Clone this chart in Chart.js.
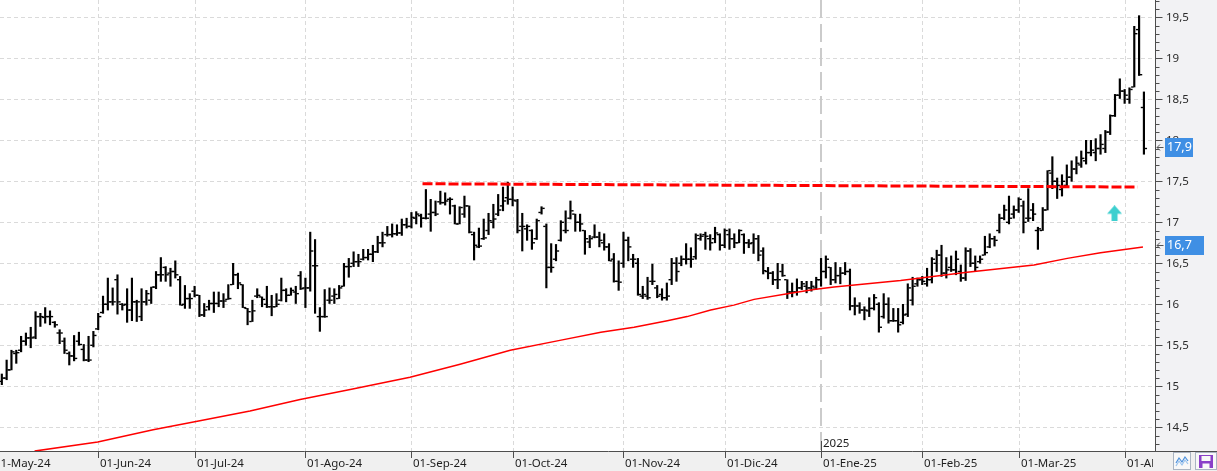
<!DOCTYPE html>
<html><head><meta charset="utf-8">
<script src="https://cdn.jsdelivr.net/npm/chart.js@4.4.1/dist/chart.umd.min.js"></script>
<style>html,body{margin:0;padding:0;background:#fff;overflow:hidden}canvas{display:block}</style>
</head><body>
<canvas id="c" width="1217" height="471"></canvas>
<script>
// ---- data ----
const opens = [
15.02,15.06,15.10,15.20,15.40,15.44,15.55,15.59,15.60,15.85,
15.84,15.85,15.78,15.65,15.55,15.40,15.37,15.55,15.45,15.32,
15.50,15.70,15.90,16.00,16.03,16.30,16.00,16.00,15.93,16.03,
15.85,16.03,16.05,16.21,16.36,16.45,16.38,16.40,16.30,16.00,
16.07,16.16,16.11,15.87,15.97,16.01,16.01,16.04,16.06,16.24,
16.36,16.24,15.95,15.79,16.10,16.09,16.00,15.97,15.97,16.05,
16.17,16.11,16.15,16.35,16.20,16.20,16.47,15.85,15.85,16.05,
16.10,16.07,16.22,16.46,16.50,16.52,16.55,16.57,16.61,16.64,
16.75,16.85,16.85,16.86,16.87,16.97,16.95,17.05,17.08,17.05,
17.10,17.12,17.25,17.24,17.28,17.20,16.98,17.10,17.20,16.85,
16.70,16.80,16.90,17.00,17.10,17.20,17.30,17.28,17.26,16.95,
16.92,16.90,16.80,17.12,16.95,16.45,16.55,16.78,16.90,17.05,
17.10,17.00,16.90,16.76,16.82,16.82,16.75,16.70,16.55,16.28,
16.50,16.78,16.55,16.50,16.10,16.10,16.28,16.20,16.12,16.08,
16.30,16.50,16.50,16.55,16.55,16.58,16.80,16.85,16.80,16.80,
16.85,16.72,16.85,16.80,16.75,16.85,16.75,16.75,16.80,16.65,
16.40,16.38,16.30,16.40,16.30,16.15,16.15,16.20,16.22,16.20,
16.20,16.30,16.40,16.45,16.30,16.35,16.38,16.40,15.98,15.98,
15.93,15.92,15.95,16.00,15.85,16.00,15.80,15.80,15.78,15.88,
16.05,16.25,16.30,16.25,16.30,16.50,16.60,16.38,16.45,16.42,
16.40,16.32,16.65,16.50,16.52,16.60,16.70,16.80,16.90,17.05,
17.00,17.10,17.15,17.20,17.05,17.15,16.90,16.90,17.15,17.60,
17.50,17.40,17.45,17.55,17.65,17.70,17.75,17.85,17.85,17.90,
17.90,18.10,18.30,18.55,18.60,18.50,18.65,19.35,18.40];
const highs = [
15.12,15.15,15.32,15.44,15.44,15.61,15.65,15.72,15.91,15.89,
15.96,15.92,15.79,15.69,15.59,15.42,15.62,15.66,15.51,15.61,
15.67,15.89,16.10,16.32,16.20,16.36,16.01,16.19,16.32,16.05,
16.19,16.17,16.21,16.40,16.57,16.46,16.44,16.53,16.34,16.23,
16.13,16.22,16.11,16.01,16.05,16.15,16.15,16.13,16.24,16.50,
16.38,16.24,15.95,16.05,16.19,16.09,16.22,16.11,16.13,16.32,
16.19,16.20,16.22,16.40,16.32,16.88,16.79,15.96,16.18,16.20,
16.19,16.23,16.50,16.56,16.64,16.61,16.67,16.67,16.72,16.83,
16.88,16.95,16.98,16.97,17.04,17.05,17.12,17.13,17.10,17.40,
17.28,17.26,17.38,17.36,17.30,17.21,17.19,17.32,17.20,16.88,
16.93,17.04,17.11,17.22,17.34,17.43,17.49,17.43,17.28,17.11,
16.97,16.91,17.04,17.19,16.98,16.74,16.73,17.02,17.14,17.26,
17.10,17.10,16.90,16.84,16.97,16.88,16.86,16.74,16.62,16.53,
16.88,16.82,16.61,16.56,16.22,16.33,16.49,16.23,16.19,16.26,
16.56,16.57,16.59,16.74,16.69,16.86,16.86,16.88,16.85,16.94,
16.86,16.92,16.92,16.86,16.91,16.86,16.79,16.86,16.84,16.69,
16.45,16.40,16.50,16.49,16.30,16.26,16.31,16.28,16.28,16.28,
16.33,16.56,16.59,16.45,16.51,16.45,16.51,16.43,16.08,16.02,
15.97,16.08,16.12,16.02,16.13,16.08,15.95,15.95,16.00,16.25,
16.33,16.32,16.34,16.44,16.57,16.66,16.72,16.57,16.59,16.65,
16.48,16.69,16.68,16.59,16.59,16.83,16.86,16.83,17.10,17.21,
17.32,17.20,17.30,17.26,17.41,17.23,16.94,17.18,17.63,17.80,
17.54,17.58,17.70,17.75,17.80,17.87,18.00,18.00,18.02,18.07,
18.12,18.31,18.56,18.75,18.62,18.64,19.39,19.52,18.59];
const lows = [
15.00,15.02,15.08,15.20,15.28,15.42,15.50,15.47,15.58,15.73,
15.77,15.75,15.72,15.52,15.40,15.26,15.31,15.50,15.31,15.30,
15.48,15.69,15.89,15.93,15.99,15.88,15.93,15.78,15.80,15.79,
15.80,15.99,16.01,16.19,16.28,16.28,16.22,16.32,15.99,15.95,
15.95,16.09,15.85,15.85,15.93,15.90,15.97,15.96,16.06,16.24,
16.19,15.96,15.75,15.79,16.08,15.97,15.96,15.86,15.97,16.04,
16.03,16.11,16.01,16.18,15.96,16.16,15.89,15.67,15.84,16.01,
16.01,16.07,16.22,16.33,16.46,16.46,16.54,16.54,16.52,16.63,
16.70,16.83,16.82,16.84,16.84,16.93,16.93,16.98,16.94,17.04,
16.89,17.08,17.22,17.21,17.10,16.98,16.98,17.06,16.87,16.54,
16.69,16.79,16.85,16.93,17.08,17.14,17.22,17.20,16.87,16.65,
16.78,16.67,16.79,17.10,16.20,16.39,16.53,16.77,16.87,17.04,
16.89,16.89,16.61,16.69,16.81,16.70,16.66,16.53,16.27,16.17,
16.45,16.53,16.45,16.11,16.07,16.06,16.24,16.08,16.05,16.05,
16.24,16.28,16.47,16.49,16.45,16.55,16.78,16.67,16.66,16.75,
16.66,16.69,16.67,16.69,16.75,16.62,16.69,16.62,16.53,16.37,
16.31,16.24,16.19,16.34,16.07,16.09,16.11,16.18,16.14,16.16,
16.18,16.22,16.32,16.24,16.26,16.25,16.36,15.93,15.87,15.89,
15.81,15.85,15.93,15.66,15.83,15.77,15.79,15.66,15.76,15.85,
15.99,16.22,16.24,16.22,16.26,16.40,16.34,16.32,16.40,16.36,
16.28,16.29,16.46,16.40,16.50,16.60,16.69,16.71,16.87,17.03,
16.98,17.05,17.12,16.87,17.01,17.02,16.67,16.90,17.15,17.41,
17.29,17.32,17.43,17.50,17.59,17.67,17.71,17.81,17.75,17.83,
17.85,18.07,18.29,18.51,18.45,18.45,18.65,18.79,17.83];
const closes = [
15.06,15.10,15.20,15.42,15.41,15.55,15.59,15.59,15.85,15.85,
15.85,15.85,15.75,15.65,15.44,15.37,15.34,15.51,15.32,15.32,
15.62,15.85,16.00,16.03,16.03,16.03,15.99,15.93,16.03,16.03,
16.03,16.13,16.21,16.36,16.36,16.36,16.40,16.36,15.99,16.07,
16.07,16.11,15.87,15.93,16.01,16.01,16.04,16.04,16.07,16.36,
16.26,15.96,15.91,15.92,16.11,16.06,15.97,15.97,16.00,16.17,
16.11,16.17,16.13,16.19,16.20,16.65,16.47,15.85,15.85,16.05,
16.12,16.20,16.46,16.46,16.52,16.52,16.57,16.61,16.64,16.75,
16.75,16.85,16.86,16.87,16.97,16.95,17.06,17.10,17.05,17.05,
17.12,17.10,17.24,17.26,17.28,16.98,17.18,17.20,16.88,16.72,
16.71,16.81,17.02,17.04,17.15,17.26,17.28,17.27,16.90,16.95,
16.95,16.75,17.02,17.17,16.45,16.45,16.65,17.00,16.90,17.14,
17.00,16.98,16.80,16.80,16.82,16.78,16.70,16.53,16.28,16.27,
16.78,16.70,16.55,16.12,16.12,16.08,16.28,16.10,16.08,16.10,
16.50,16.40,16.55,16.55,16.55,16.84,16.83,16.83,16.75,16.87,
16.72,16.90,16.80,16.75,16.90,16.75,16.74,16.80,16.60,16.41,
16.38,16.30,16.30,16.35,16.15,16.15,16.20,16.25,16.20,16.22,
16.30,16.40,16.55,16.30,16.35,16.38,16.40,15.98,15.98,15.93,
15.93,15.95,16.08,15.72,16.00,15.80,15.80,15.75,15.87,16.20,
16.22,16.30,16.28,16.30,16.55,16.60,16.38,16.42,16.42,16.55,
16.32,16.65,16.50,16.45,16.55,16.63,16.80,16.78,17.05,17.15,
17.05,17.15,17.28,17.00,17.05,17.10,16.92,17.15,17.63,17.50,
17.45,17.50,17.55,17.65,17.72,17.78,17.85,17.88,17.90,17.95,
18.10,18.30,18.55,18.60,18.55,18.62,19.30,18.80,17.90];

// moving average, read at sample positions (bar index, value)
const maIdx = [7.8,20.9,32.4,42.1,52.5,62.9,73.3,85.7,96.1,106.5,116.8,125.3,132.2,139.1,143.2,148.1,152.9,157.1,164.0,169.5,173.7,180.6,187.5,201.3,215.2,222.1,229.0,237.8];
const maVal = [14.21,14.32,14.47,14.58,14.70,14.84,14.96,15.11,15.27,15.44,15.56,15.66,15.72,15.80,15.85,15.93,15.99,16.06,16.13,16.18,16.21,16.25,16.29,16.39,16.48,16.56,16.63,16.70];

// resistance line (dashed red)
const trendIdx = [88.3, 236.7];
const trendVal = [17.47, 17.43];

// signal arrow
const arrowIdx = [231.9];
const arrowVal = [17.11];

// axis ticks
const monthTickIdx = [-1,21,41,64,86,107,130,151,171,192,212,234];
const monthTickLabels = ["01-May-24","01-Jun-24","01-Jul-24","01-Ago-24","01-Sep-24","01-Oct-24","01-Nov-24","01-Dic-24","01-Ene-25","01-Feb-25","01-Mar-25","01-Abr-25"];
const yearTickIdx = 171;
const yearLabel = "2025";
const yTickValues = [14.5,15,15.5,16,16.5,17,17.5,18,18.5,19,19.5];
const lastPrice = 17.9;
const lastMA = 16.7;

const fmt = v => String(Math.round(v*10)/10).replace('.', ',');

// arrow image
const arrowImg = document.createElement('canvas');
arrowImg.width = 15; arrowImg.height = 16;
(function(){
  const g = arrowImg.getContext('2d');
  g.fillStyle = '#3ccfcf';
  g.beginPath();
  g.moveTo(7.5,0); g.lineTo(15,8.5); g.lineTo(10.5,8.5); g.lineTo(10.5,16);
  g.lineTo(4.5,16); g.lineTo(4.5,8.5); g.lineTo(0,8.5); g.closePath(); g.fill();
})();

const idx = opens.map((_, i) => i);

const chrome = {
  id: 'chrome',
  beforeDraw(chart) {
    const {ctx, chartArea: a, width, height} = chart;
    ctx.save();
    ctx.fillStyle = '#ffffff'; ctx.fillRect(0, 0, width, height);
    ctx.fillStyle = '#f2f2f4'; ctx.fillRect(a.right, 0, width - a.right, a.bottom);
    ctx.fillStyle = '#f0f0f0'; ctx.fillRect(0, a.bottom, width, height - a.bottom);
    ctx.restore();
  },
  beforeDatasetsDraw(chart) {
    const {ctx, chartArea: a, scales: {x, y}} = chart;
    ctx.save();
    ctx.beginPath(); ctx.rect(a.left, a.top, a.right - a.left, a.bottom - a.top); ctx.clip();
    ctx.lineWidth = 1; ctx.strokeStyle = '#dadada'; ctx.setLineDash([4, 3]);
    yTickValues.forEach(v => {
      const py = Math.round(y.getPixelForValue(v)) + 0.5;
      ctx.beginPath(); ctx.moveTo(a.left, py); ctx.lineTo(a.right, py); ctx.stroke();
    });
    monthTickIdx.forEach(t => {
      if (t === yearTickIdx) return;
      const px = Math.round(x.getPixelForValue(t)) + 0.5;
      ctx.beginPath(); ctx.moveTo(px, a.top); ctx.lineTo(px, a.bottom); ctx.stroke();
    });
    ctx.setLineDash([18, 6]); ctx.strokeStyle = '#cbcbcb'; ctx.lineWidth = 2;
    const yx = Math.round(x.getPixelForValue(yearTickIdx));
    ctx.beginPath(); ctx.moveTo(yx, a.top); ctx.lineTo(yx, a.bottom); ctx.stroke();
    ctx.restore();
  },
  afterDraw(chart) {
    const {ctx, chartArea: a, scales: {x, y}, width, height} = chart;
    ctx.save();
    ctx.setLineDash([]);
    ctx.strokeStyle = '#4e4e4e'; ctx.lineWidth = 1;
    const ax = Math.round(a.right) + 0.5;
    const ay = Math.round(a.bottom) + 0.5;
    ctx.beginPath(); ctx.moveTo(ax, 0); ctx.lineTo(ax, a.bottom); ctx.stroke();
    ctx.beginPath(); ctx.moveTo(0, ay); ctx.lineTo(width, ay); ctx.stroke();
    // right axis ticks (major every 0.5, minor every 0.1)
    for (let k = Math.ceil(y.min * 10); k <= Math.floor(y.max * 10); k++) {
      const py = Math.round(y.getPixelForValue(k / 10)) + 0.5;
      const len = (k % 5 === 0) ? 7 : 4;
      ctx.beginPath(); ctx.moveTo(ax, py); ctx.lineTo(ax + len, py); ctx.stroke();
    }
    // month ticks and labels
    ctx.save();
    ctx.beginPath(); ctx.rect(0, a.bottom, a.right - 2, height - a.bottom); ctx.clip();
    ctx.font = '11.5px "Noto Sans"'; ctx.fillStyle = '#1e1e1e'; ctx.textBaseline = 'alphabetic'; ctx.textAlign = 'left';
    monthTickIdx.forEach((t, k) => {
      const px = Math.round(x.getPixelForValue(t)) + 0.5;
      ctx.beginPath(); ctx.moveTo(px, a.bottom); ctx.lineTo(px, a.bottom + 7); ctx.stroke();
      ctx.fillText(monthTickLabels[k], px + 1.5, a.bottom + 16);
    });
    ctx.restore();
    // year marker
    const yx = Math.round(x.getPixelForValue(yearTickIdx)) + 0.5;
    ctx.beginPath(); ctx.moveTo(yx, a.bottom - 10); ctx.lineTo(yx, a.bottom); ctx.stroke();
    ctx.font = '11.5px "Noto Sans"'; ctx.fillStyle = '#1e1e1e';
    ctx.fillText(yearLabel, yx + 1.5, a.bottom - 4.5);
    // value boxes
    const box = (val, w) => {
      const py = y.getPixelForValue(val);
      const top = Math.round(py - 11);
      ctx.fillStyle = '#3f8fe4';
      ctx.fillRect(ax + 9.5, top, w, 19);
      ctx.fillStyle = '#ffffff'; ctx.font = '12.5px "Noto Sans"'; ctx.textBaseline = 'middle';
      ctx.fillText(fmt(val), ax + 11.5, top + 9.5);
      const cy = top + 9.5;
      ctx.strokeStyle = '#555'; ctx.lineWidth = 1;
      ctx.beginPath(); ctx.moveTo(ax + 1.5, cy); ctx.lineTo(ax + 8, cy); ctx.stroke();
      ctx.beginPath(); ctx.moveTo(ax + 4.5, cy - 3); ctx.lineTo(ax + 1.5, cy); ctx.lineTo(ax + 4.5, cy + 3); ctx.stroke();
    };
    box(lastPrice, 28);
    box(lastMA, 39);
    // toolbar buttons
    ctx.textBaseline = 'alphabetic';
    ctx.fillStyle = '#f8f8f8'; ctx.strokeStyle = '#aab4c2';
    ctx.fillRect(1173.5, 452.5, 17, 17); ctx.strokeRect(1173.5, 452.5, 17, 17);
    ctx.fillRect(1195.5, 452.5, 21, 17); ctx.strokeRect(1195.5, 452.5, 21, 17);
    ctx.strokeStyle = '#4a8fdc'; ctx.lineWidth = 1.2;
    ctx.beginPath(); ctx.moveTo(1176, 463); ctx.lineTo(1179, 458); ctx.lineTo(1182, 462); ctx.lineTo(1185, 457); ctx.lineTo(1188, 461); ctx.stroke();
    ctx.strokeStyle = '#9cc4ee';
    ctx.beginPath(); ctx.moveTo(1176, 466); ctx.lineTo(1179, 461); ctx.lineTo(1182, 465); ctx.lineTo(1185, 460); ctx.lineTo(1188, 464); ctx.stroke();
    ctx.fillStyle = '#8a3fc8';
    ctx.fillRect(1199, 455, 14, 13);
    ctx.fillStyle = '#f8f8f8';
    ctx.fillRect(1201.5, 456, 9, 5);
    ctx.fillRect(1202.5, 463.5, 7, 4.5);
    ctx.restore();
  }
};

new Chart(document.getElementById('c'), {
  type: 'bar',
  data: {
    datasets: [
      { type: 'line', label: 'Resistencia', data: trendIdx.map((t, k) => ({x: t, y: trendVal[k]})),
        borderColor: '#ff0000', borderWidth: 3, borderDash: [10, 3], pointRadius: 0, fill: false, order: 0 },
      { type: 'line', label: 'Media', data: maIdx.map((t, k) => ({x: t, y: maVal[k]})),
        borderColor: '#ff0000', borderWidth: 1.5, pointRadius: 0, tension: 0, fill: false, order: 1 },
      { type: 'scatter', label: 'Señal', data: arrowIdx.map((t, k) => ({x: t, y: arrowVal[k]})),
        pointStyle: arrowImg, pointRadius: 8, order: 2 },
      { type: 'bar', label: 'HL', data: idx.map(i => ({x: i, y: [lows[i], highs[i]]})),
        backgroundColor: '#000000', borderWidth: 0, barThickness: 1.5, grouped: false, order: 3 },
      { type: 'scatter', label: 'Open', data: idx.map(i => ({x: i - 0.4, y: opens[i]})),
        pointStyle: 'line', pointRadius: 1.2, pointBorderWidth: 1.4, pointBorderColor: '#000', pointBackgroundColor: '#000', order: 3 },
      { type: 'scatter', label: 'Close', data: idx.map(i => ({x: i + 0.4, y: closes[i]})),
        pointStyle: 'line', pointRadius: 1.2, pointBorderWidth: 1.4, pointBorderColor: '#000', pointBackgroundColor: '#000', order: 3 }
    ]
  },
  options: {
    responsive: false, animation: false, devicePixelRatio: 1, events: [],
    layout: { padding: 0, autoPadding: false },
    plugins: { legend: { display: false }, tooltip: { enabled: false } },
    scales: {
      x: { type: 'linear', min: 0.6225, max: 240.30, offset: false,
           grid: { display: false, drawTicks: false }, border: { display: false },
           ticks: { display: false },
           afterFit(s) { s.height = 20; s.paddingLeft = 0; s.paddingRight = 0; } },
      y: { type: 'linear', position: 'right', min: 14.211, max: 19.711,
           grid: { display: false, drawTicks: false }, border: { display: false },
           ticks: { padding: 11, color: '#2a2a2a', autoSkip: false,
                    font: { family: 'Noto Sans', size: 11.5 }, callback: v => fmt(v) },
           afterBuildTicks(s) { s.ticks = yTickValues.map(v => ({value: v})); },
           afterFit(s) { s.width = 62; s.paddingTop = 0; s.paddingBottom = 0; } }
    }
  },
  plugins: [chrome]
});
</script>
</body></html>
